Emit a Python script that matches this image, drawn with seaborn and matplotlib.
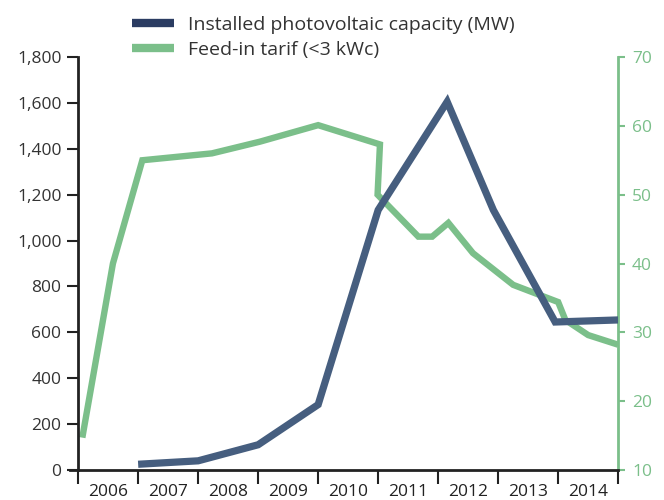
import matplotlib
matplotlib.use('Agg')
import matplotlib.pyplot as plt
from matplotlib.lines import Line2D
import seaborn as sns

# Installed photovoltaic capacity (MW), x in years from start of 2006
pv_x = [1.0, 2.0, 3.0, 4.0, 5.0, 6.15, 6.92, 7.95, 9.0]
pv_mw = [25, 40, 110, 285, 1133, 1605, 1133, 645, 654]

# Feed-in tariff (<3 kWc)
tarif_x = [0.07, 0.58, 1.07, 2.23, 3.03, 4.0, 5.03, 4.99, 5.67, 5.9, 6.17, 6.58, 7.25, 8.0, 8.12, 8.5, 9.0]
tarif = [14.7, 40.0, 55.0, 56.0, 57.7, 60.1, 57.3, 50.0, 43.9, 43.9, 45.9, 41.5, 36.9, 34.4, 31.8, 29.6, 28.2]

years = ['2006', '2007', '2008', '2009', '2010', '2011', '2012', '2013', '2014']

navy = '#465e7f'
navy_dark = '#2b3c62'
green = '#7bbf8a'

sns.set_style('white')
plt.rcParams['font.family'] = ['Open Sans', 'DejaVu Sans']

fig = plt.figure(figsize=(6.64, 5.0), dpi=100)
ax = fig.add_axes([0.105, 0.06, 0.826, 0.826])

sns.lineplot(x=pv_x, y=pv_mw, ax=ax, sort=False, estimator=None, color=navy, linewidth=5.2,
             zorder=3, solid_capstyle='butt', solid_joinstyle='miter')
ax.set_ylim(0, 1800)
ax.set_xlim(-0.14, 9.0)
ax.set_yticks(range(0, 1801, 200))
ax.set_yticklabels([f'{v:,}' for v in range(0, 1801, 200)])

ax2 = ax.twinx()
sns.lineplot(x=tarif_x, y=tarif, ax=ax2, sort=False, estimator=None, color=green, linewidth=4.6,
             zorder=2, solid_capstyle='butt', solid_joinstyle='miter')
ax2.set_ylim(10, 70)
ax2.set_yticks(range(10, 71, 10))
ax.set_zorder(ax2.get_zorder() + 1)
ax.patch.set_visible(False)

# spines
for a in (ax, ax2):
    a.spines['top'].set_visible(False)
ax.spines['right'].set_visible(False)
ax2.spines['left'].set_visible(False)
ax2.spines['bottom'].set_visible(False)
ax.spines['left'].set_position(('data', 0))
ax.spines['left'].set_color('#222222')
ax.spines['left'].set_linewidth(2)
ax.spines['bottom'].set_color('#222222')
ax.spines['bottom'].set_linewidth(2)
ax2.spines['right'].set_color(green)
ax2.spines['right'].set_linewidth(2)

ax.tick_params(axis='y', direction='out', length=8, width=1.5, color='#222222',
               labelsize=12.5, labelcolor='#333333', left=True, pad=4)
ax2.tick_params(axis='y', direction='out', length=5, width=1.5, color=green,
                labelsize=12.5, labelcolor=green, right=True, pad=5)

# x axis: boundary ticks, labels centred between
ax.set_xticks(range(0, 10))
ax.set_xticklabels([])
ax.set_xticks([i + 0.5 for i in range(9)], minor=True)
ax.set_xticklabels(years, minor=True)
ax.tick_params(axis='x', which='major', direction='out', length=10, width=1.5,
               color='#222222', bottom=True)
ax.tick_params(axis='x', which='minor', length=0, labelsize=12.5, labelcolor='#222222', pad=10)
ax.set_xlabel('')
ax.set_ylabel('')
ax2.set_ylabel('')

handles = [Line2D([0], [0], color=navy_dark, linewidth=6, solid_capstyle='butt'),
           Line2D([0], [0], color=green, linewidth=6, solid_capstyle='butt')]
fig.legend(handles, ['Installed photovoltaic capacity (MW)', 'Feed-in tarif (<3 kWc)'],
           loc='upper left', bbox_to_anchor=(0.172, 1.004), frameon=False, fontsize=14,
           handlelength=2.2, handletextpad=0.72, labelspacing=0.4, labelcolor='#333333')

fig.savefig('out.png', dpi=100)
